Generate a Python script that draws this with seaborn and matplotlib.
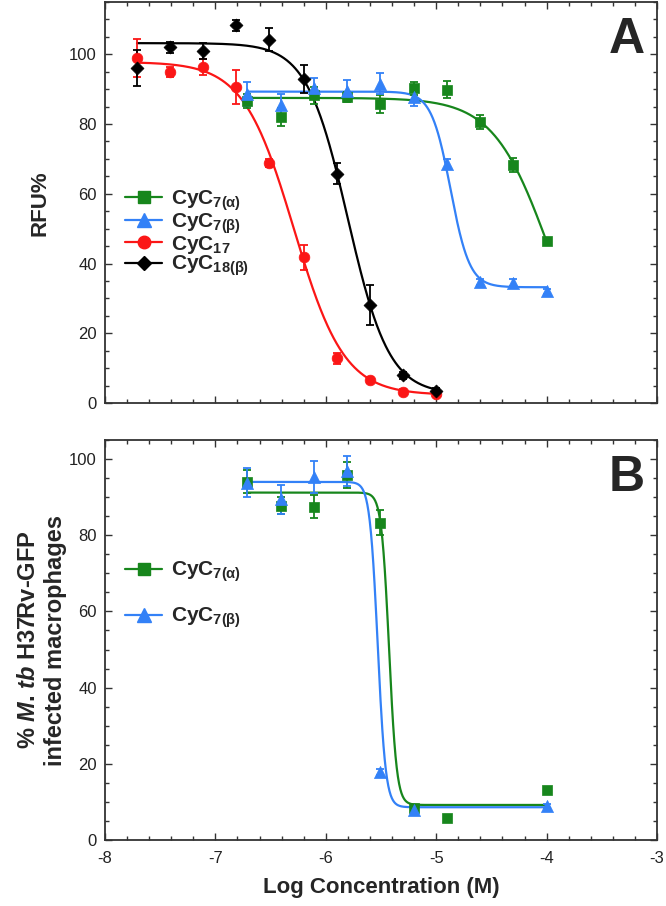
import numpy as np
import pandas as pd
import matplotlib
matplotlib.use("Agg")
import matplotlib.pyplot as plt
import seaborn as sns
from matplotlib.lines import Line2D
from matplotlib.ticker import MultipleLocator

# ---------------- data ----------------
x_long = [-7.71, -7.41, -7.11, -6.81, -6.51, -6.20, -5.90, -5.60, -5.30, -5.00]
x_short = [-6.71, -6.41, -6.11, -5.81, -5.51, -5.20, -4.90, -4.60, -4.30, -4.00]

# Panel A
red_y = [99.0, 94.9, 96.4, 90.6, 68.9, 41.8, 12.8, 6.6, 3.2, 2.5]
red_err = [5.5, 1.5, 2.3, 4.8, 1.2, 3.6, 1.5, 0.8, 0.8, 0.6]
black_y = [96.1, 102.0, 101.0, 108.3, 104.2, 93.0, 65.8, 28.0, 8.0, 3.5]
black_err = [5.2, 1.5, 2.3, 1.5, 3.3, 4.0, 3.0, 5.7, 1.0, 0.8]
greenA_y = [86.6, 82.0, 88.2, 87.7, 85.8, 90.2, 89.9, 80.7, 68.2, 46.4]
greenA_err = [2.0, 2.5, 2.5, 1.5, 2.5, 2.0, 2.5, 2.0, 2.0, 1.0]
blueA_y = [88.7, 85.6, 90.2, 89.6, 91.6, 87.7, 68.5, 34.7, 34.5, 32.0]
blueA_err = [3.5, 3.0, 3.0, 3.0, 3.0, 2.5, 1.5, 1.0, 1.0, 0.8]

# Panel B
xB_green = [-6.71, -6.41, -6.11, -5.81, -5.51, -5.20, -4.90, -4.00]
greenB_y = [94.0, 87.8, 87.5, 95.9, 83.3, 8.5, 5.9, 13.1]
greenB_err = [3.0, 2.2, 3.0, 3.4, 3.3, 0.8, 0.5, 0.5]
xB_blue = [-6.71, -6.41, -6.11, -5.81, -5.51, -5.20, -4.00]
blueB_y = [93.8, 89.4, 95.3, 96.9, 17.8, 7.9, 8.9]
blueB_err = [3.8, 3.8, 4.1, 3.9, 0.8, 0.8, 0.5]

# fitted 4-parameter logistic curves: (top, bottom, logIC50, hill, xmin, xmax)
fit_red = [97.8, 2.3, -6.29, 1.9, -7.71, -5.00]
fit_black = [103.2, 2.5, -5.80, 2.33, -7.71, -5.00]
fit_greenA = [87.5, 0.0, -3.97, 1.7, -6.71, -4.00]
fit_blueA = [89.3, 33.2, -4.87, 5.0, -6.71, -4.00]
fit_greenB = [91.2, 9.2, -5.427, 12.5, -6.71, -4.00]
fit_blueB = [94.0, 8.6, -5.53, 12.0, -6.71, -4.00]

labels_A = [r"CyC$_{7(\alpha)}$", r"CyC$_{7(\beta)}$", r"CyC$_{17}$", r"CyC$_{18(\beta)}$"]
labels_B = [r"CyC$_{7(\alpha)}$", r"CyC$_{7(\beta)}$"]

GREEN = "#17861c"
BLUE = "#3381f7"
RED = "#fb1616"
BLACK = "#000000"

# ---------------- style ----------------
sns.set_style("ticks")
plt.rcParams['font.family'] = ['Liberation Sans', 'DejaVu Sans']
plt.rcParams['mathtext.fontset'] = 'custom'
plt.rcParams['mathtext.rm'] = 'Liberation Sans'
plt.rcParams['mathtext.bf'] = 'Liberation Sans:bold'
plt.rcParams['mathtext.it'] = 'Liberation Sans:italic:bold'
plt.rcParams['mathtext.default'] = 'bf'
plt.rcParams['axes.unicode_minus'] = False

fig = plt.figure(figsize=(6.66, 9.06), dpi=100)
W, H = 666, 906
L, R = 105, 657
axA = fig.add_axes([L / W, 1 - 403 / H, (R - L) / W, (403 - 2) / H])
axB = fig.add_axes([L / W, 1 - 840 / H, (R - L) / W, (840 - 440) / H])


def curve(ax, p, color):
    top, bot, x0, h, xmin, xmax = p
    xs = np.linspace(xmin, xmax, 500)
    ys = bot + (top - bot) / (1 + 10 ** ((xs - x0) * h))
    df = pd.DataFrame({"x": xs, "y": ys})
    sns.lineplot(data=df, x="x", y="y", color=color, lw=1.6, ax=ax, zorder=2)


def points(ax, x, y, err, color, marker, size):
    ax.errorbar(x, y, yerr=err, fmt='none', ecolor=color, elinewidth=1.3,
                capsize=2.6, capthick=1.3, zorder=3)
    df = pd.DataFrame({"x": x, "y": y})
    sns.scatterplot(data=df, x="x", y="y", color=color, marker=marker, s=size ** 2,
                    edgecolor=color, linewidth=0.5, ax=ax, zorder=4, legend=False)


# Panel A
curve(axA, fit_greenA, GREEN)
curve(axA, fit_blueA, BLUE)
curve(axA, fit_red, RED)
curve(axA, fit_black, BLACK)
points(axA, x_short, greenA_y, greenA_err, GREEN, 's', 6.6)
points(axA, x_short, blueA_y, blueA_err, BLUE, '^', 8.7)
points(axA, x_long, red_y, red_err, RED, 'o', 7.7)
points(axA, x_long, black_y, black_err, BLACK, 'D', 6.6)

# Panel B
curve(axB, fit_greenB, GREEN)
curve(axB, fit_blueB, BLUE)
points(axB, xB_green, greenB_y, greenB_err, GREEN, 's', 6.6)
points(axB, xB_blue, blueB_y, blueB_err, BLUE, '^', 8.7)

for ax, ytop in ((axA, 115), (axB, 105)):
    ax.set_xlim(-8, -3)
    ax.set_ylim(0, ytop)
    ax.xaxis.set_major_locator(MultipleLocator(1))
    ax.xaxis.set_minor_locator(MultipleLocator(0.2))
    ax.yaxis.set_major_locator(MultipleLocator(20))
    ax.yaxis.set_minor_locator(MultipleLocator(5))
    ax.tick_params(which='both', direction='in', top=True, right=True,
                   color='#333333', width=1.0, labelsize=12, labelcolor='#222222')
    ax.tick_params(which='major', length=5)
    ax.tick_params(which='minor', length=3)
    ax.tick_params(axis='y', pad=6)
    ax.tick_params(axis='x', pad=8)
    for s in ax.spines.values():
        s.set_color('#333333')
        s.set_linewidth(1.3)
    ax.set_xlabel("")
    ax.set_ylabel("")

axA.tick_params(axis='x', labelbottom=False)

# legends
def make_handles(specs):
    return [Line2D([], [], color=c, lw=1.6, marker=m, markersize=ms,
                   markerfacecolor=c, markeredgecolor=c) for c, m, ms in specs]

hA = make_handles([(GREEN, 's', 8.5), (BLUE, '^', 10), (RED, 'o', 9), (BLACK, 'D', 7.5)])
axA.legend(hA, labels_A, loc='upper left', bbox_to_anchor=(0.036, 0.535), frameon=False,
           handlelength=1.8, handletextpad=0.4, labelspacing=-0.09, borderpad=0,
           borderaxespad=0, prop={'weight': 'bold', 'size': 15})

hB = make_handles([(GREEN, 's', 8.5), (BLUE, '^', 10)])
axB.legend(hB, labels_B, loc='upper left', bbox_to_anchor=(0.036, 0.70), frameon=False,
           handlelength=1.8, handletextpad=0.4, labelspacing=1.02, borderpad=0,
           borderaxespad=0, prop={'weight': 'bold', 'size': 15})

# panel letters
axA.text(0.978, 0.962, "A", transform=axA.transAxes, ha='right', va='top',
         fontsize=36, fontweight='bold')
axB.text(0.978, 0.962, "B", transform=axB.transAxes, ha='right', va='top',
         fontsize=36, fontweight='bold')

# axis labels
fig.text(40 / W, 1 - 203 / H, "RFU%", rotation=90, ha='center', va='center',
         fontsize=16, fontweight='bold')
fig.text(42 / W, 1 - 640 / H, "% $\\mathit{M}$. $\\mathit{tb}$ H37Rv-GFP\ninfected macrophages",
         rotation=90, ha='center', va='center', multialignment='center',
         fontsize=17, fontweight='bold', linespacing=1.25)
fig.text(381 / W, 1 - 888 / H, "Log Concentration (M)", ha='center', va='center',
         fontsize=16, fontweight='bold')

fig.savefig("out.png", dpi=100)
